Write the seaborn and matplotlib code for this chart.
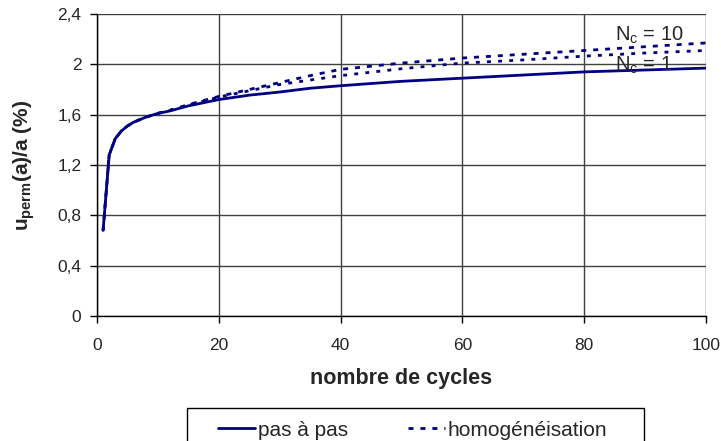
import matplotlib
matplotlib.use("Agg")
import matplotlib.pyplot as plt
from matplotlib.patches import Rectangle
import seaborn as sns
import pandas as pd

# Permanent displacement vs. number of cycles
cycles = [1, 2, 3, 4, 5, 6, 8, 10, 12, 15, 20, 25, 30, 35, 40, 50, 60, 70, 80, 90, 100]
pas_a_pas = [0.68, 1.28, 1.41, 1.47, 1.51, 1.54, 1.58, 1.61, 1.63, 1.67, 1.72, 1.755,
             1.78, 1.81, 1.83, 1.865, 1.89, 1.915, 1.94, 1.955, 1.97]
homog_nc10 = [0.68, 1.28, 1.41, 1.47, 1.51, 1.54, 1.58, 1.61, 1.635, 1.68, 1.745, 1.80,
              1.855, 1.91, 1.96, 2.01, 2.05, 2.08, 2.11, 2.14, 2.17]
homog_nc1 = [0.68, 1.28, 1.41, 1.47, 1.51, 1.54, 1.58, 1.61, 1.635, 1.675, 1.74, 1.79,
             1.84, 1.875, 1.91, 1.965, 2.01, 2.035, 2.065, 2.09, 2.11]

x_ticks = [0, 20, 40, 60, 80, 100]
y_ticks = [0, 0.4, 0.8, 1.2, 1.6, 2.0, 2.4]
y_tick_labels = ["0", "0,4", "0,8", "1,2", "1,6", "2", "2,4"]

sns.set_style("white")
plt.rcParams["font.family"] = ["Liberation Sans", "DejaVu Sans"]
plt.rcParams["mathtext.fontset"] = "custom"
plt.rcParams["mathtext.rm"] = "Liberation Sans"
plt.rcParams["mathtext.it"] = "Liberation Sans"
plt.rcParams["mathtext.bf"] = "Liberation Sans:bold"

navy = "#000080"
df = pd.DataFrame({"cycles": cycles, "pas": pas_a_pas,
                   "h10": homog_nc10, "h1": homog_nc1})

W, H = 721, 441
fig = plt.figure(figsize=(W / 100, H / 100), dpi=100)
ax = fig.add_axes([97 / W, 1 - 316 / H, (706 - 97) / W, (316 - 14) / H])

dash = (1.8, 2.5)
sns.lineplot(data=df, x="cycles", y="h10", ax=ax, color=navy, lw=2)
ax.lines[-1].set_dashes(dash)
sns.lineplot(data=df, x="cycles", y="h1", ax=ax, color=navy, lw=2)
ax.lines[-1].set_dashes((1.4, 2.6))
sns.lineplot(data=df, x="cycles", y="pas", ax=ax, color=navy, lw=2)
solid_line = ax.lines[-1]

# legend proxy for the dashed series
dashed_proxy, = ax.plot([], [], color=navy, lw=2, dashes=dash)

ax.set_xlim(0, 100)
ax.set_ylim(0, 2.4)
ax.set_xticks(x_ticks)
ax.set_xticklabels([str(v) for v in x_ticks])
ax.set_yticks(y_ticks)
ax.set_yticklabels(y_tick_labels)
ax.tick_params(axis="both", labelsize=12.5, length=4.7, width=1, color="black",
               direction="out", bottom=True, left=True)
ax.tick_params(axis="x", pad=11)
ax.tick_params(axis="y", pad=6.5)
ax.grid(True, color="#404040", lw=1)
ax.set_axisbelow(True)
for side in ["top", "right"]:
    ax.spines[side].set_visible(False)
for side in ["left", "bottom"]:
    ax.spines[side].set_color("black")
    ax.spines[side].set_linewidth(1)

ax.set_xlabel("nombre de cycles", fontsize=15.5, fontweight="bold", labelpad=11)
ax.set_ylabel(r"u$_{\mathbf{perm}}$(a)/a (%)", fontsize=15, fontweight="bold")
ax.yaxis.set_label_coords(-0.0985, 0.5)

ax.text(85, 2.231, r"N$_\mathrm{c}$ = 10", fontsize=14.5, va="center", ha="left")
ax.text(85, 1.989, r"N$_\mathrm{c}$ = 1", fontsize=14.5, va="center", ha="left")

# legend box along the bottom edge
fig.patches.append(Rectangle((187 / W, -0.05), (644 - 187) / W, (H - 408) / H + 0.05,
                             transform=fig.transFigure, fill=False,
                             edgecolor="black", lw=1))
fig.legend([solid_line, dashed_proxy], ["pas à pas", "homogénéisation"], ncol=2,
           loc="center left", bbox_to_anchor=(218 / W, 1 - 430 / H),
           fontsize=15, frameon=False, handlelength=1.78, handletextpad=0.12,
           columnspacing=2.9, borderpad=0, borderaxespad=0)

fig.savefig("out.png", dpi=100)
